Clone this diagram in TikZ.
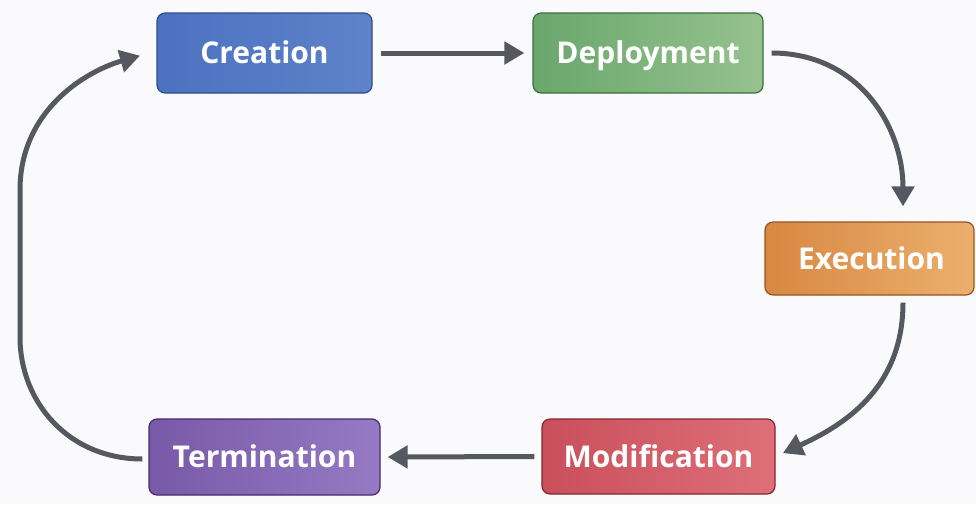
\documentclass[tikz,border=0pt]{standalone}
\usepackage{fontspec}
\setmainfont{Open Sans}
\usetikzlibrary{arrows.meta}
\definecolor{bg}{HTML}{FAFAFC}
\definecolor{arrowgray}{HTML}{55585E}
\definecolor{blueL}{HTML}{4C71C0}\definecolor{blueR}{HTML}{5E83CA}\definecolor{blueD}{HTML}{2E4C8C}
\definecolor{greenL}{HTML}{6AA76C}\definecolor{greenR}{HTML}{96C28F}\definecolor{greenD}{HTML}{3E6E41}
\definecolor{orangeL}{HTML}{D88842}\definecolor{orangeR}{HTML}{ECAF6E}\definecolor{orangeD}{HTML}{94561F}
\definecolor{redL}{HTML}{C94F5B}\definecolor{redR}{HTML}{DE6F79}\definecolor{redD}{HTML}{86252F}
\definecolor{purpleL}{HTML}{7859A8}\definecolor{purpleR}{HTML}{967AC3}\definecolor{purpleD}{HTML}{452A6E}
\begin{document}
\begin{tikzpicture}[x=1pt,y=-1pt,
  stage/.style={rounded corners=8pt, line width=1.2pt, text=white,
    font=\fontsize{30}{36}\selectfont\bfseries, inner sep=0pt,
    text height=21.5pt, text depth=0pt},
  arr/.style={draw=arrowgray, line width=5pt,
    -{Triangle[length=20pt,width=22pt]}}]
\fill[bg] (0,0) rectangle (976,504);
\useasboundingbox (0,0) rectangle (976,504);
\node[stage, draw=blueD, left color=blueL, right color=blueR,
  minimum width=215pt, minimum height=80pt] (cre) at (264.5,53) {Creation};
\node[stage, draw=greenD, left color=greenL, right color=greenR,
  minimum width=230pt, minimum height=80pt] (dep) at (648,53) {Deployment};
\node[stage, draw=orangeD, left color=orangeL, right color=orangeR,
  minimum width=209pt, minimum height=73pt] (exe) at (869.5,258.5) {\hspace*{4pt}Execution};
\node[stage, draw=redD, left color=redL, right color=redR,
  minimum width=233pt, minimum height=75pt] (mod) at (658.5,456.5) {Modification};
\node[stage, draw=purpleD, left color=purpleL, right color=purpleR,
  minimum width=231pt, minimum height=76pt] (ter) at (264.5,457) {Termination};
\coordinate (exeIn) at ([xshift=33.5pt]exe.north);
\coordinate (exeOut) at ([xshift=33.5pt]exe.south);
\coordinate (lt) at (20,190);
\coordinate (lb) at (20,337);
\draw[arr, shorten <=8pt, shorten >=8pt] (cre.east) -- (dep.west);
\draw[arr, shorten <=8pt, shorten >=15pt] (dep.east) .. controls +(95,0) and +(0,-95) .. (exeIn);
\draw[arr, shorten <=7pt, shorten >=8pt] (exeOut) .. controls +(0,95) and +(65,-30) .. (mod.east);
\draw[arr, shorten <=7pt, shorten >=7pt] (mod.west) -- (ter.east);
\draw[arr, shorten <=6pt, shorten >=17pt] ([yshift=-2pt]ter.west) .. controls +(-80,0) and +(0,65) .. (lb) -- (lt) .. controls +(0,-80) and +(-70,20) .. ([yshift=2pt]cre.west);
\end{tikzpicture}
\end{document}
